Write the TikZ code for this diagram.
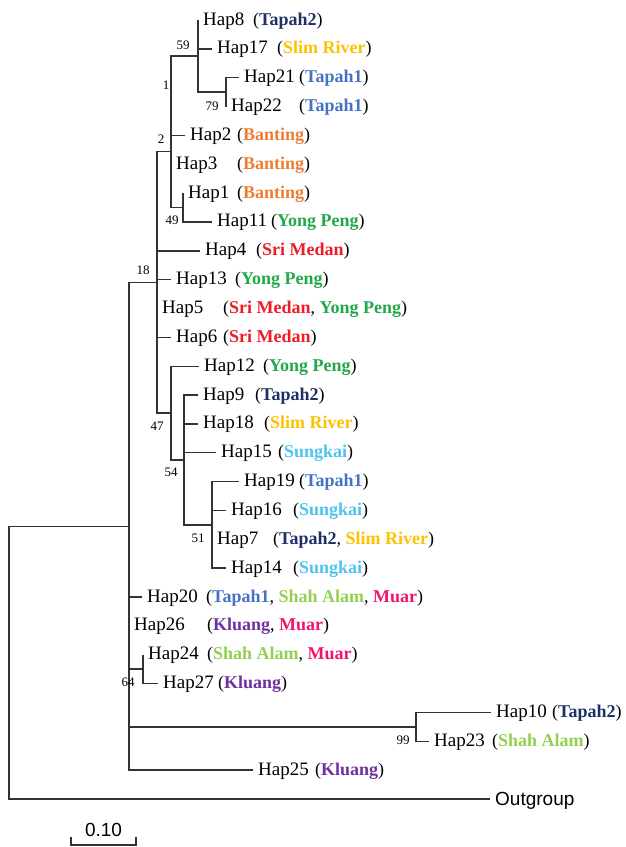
\documentclass[tikz,border=0pt]{standalone}
\usepackage{fontspec}
\setmainfont{Liberation Serif}
\newfontfamily\arialfont{Liberation Sans}

% population colours
\definecolor{tapahtwo}{HTML}{1F3068}
\definecolor{tapahone}{HTML}{4472C4}
\definecolor{slimriver}{HTML}{FFC000}
\definecolor{banting}{HTML}{ED7D31}
\definecolor{yongpeng}{HTML}{22A84A}
\definecolor{srimedan}{HTML}{EE1C25}
\definecolor{sungkai}{HTML}{4DC3F0}
\definecolor{shahalam}{HTML}{92D050}
\definecolor{muar}{HTML}{F0146E}
\definecolor{kluang}{HTML}{7030A0}
\definecolor{treeline}{HTML}{333333}

\newcommand\site[2]{\textcolor{#1}{\textbf{#2}}}

\begin{document}
\begin{tikzpicture}[x=1pt,y=-1pt,
  branch/.style={draw=treeline, line width=1.4pt},
  hap/.style={anchor=base west, inner sep=0pt, xshift=5pt, yshift=-5pt,
    font=\fontsize{19}{21}\selectfont},
  popn/.style={anchor=base west, inner sep=0pt, yshift=-5pt,
    font=\fontsize{18}{20}\selectfont},
  boot/.style={inner sep=0pt, font=\fontsize{13}{14}\selectfont},
  sans/.style={inner sep=0pt, font=\arialfont\fontsize{19}{21}\selectfont}]
\useasboundingbox (0,0) rectangle (625,847);

% internal nodes
\coordinate (root) at (9,662.6);
\coordinate (n18) at (129,526.2);
\coordinate (nP)  at (157,282.35);
\coordinate (nB)  at (171,151.6);
\coordinate (nA)  at (171,95.7);
\coordinate (n59) at (198,56.05);
\coordinate (n79) at (226,92.1);
\coordinate (n49) at (183,207.5);
\coordinate (n47) at (171,413.1);
\coordinate (n54) at (184,460.0);
\coordinate (n51) at (212,524.9);
\coordinate (n64) at (143,669.1);
\coordinate (n99) at (416,726.8);

% leaf tips
\coordinate (t8)  at (198,20);
\coordinate (t17) at (212,48.85);
\coordinate (t21) at (239,77.7);
\coordinate (t22) at (226,106.55);
\coordinate (t2)  at (185,135.4);
\coordinate (t3)  at (171,164.25);
\coordinate (t1)  at (183,193.1);
\coordinate (t11) at (212,221.95);
\coordinate (t4)  at (200,250.8);
\coordinate (t13) at (171,279.65);
\coordinate (t5)  at (157,308.5);
\coordinate (t6)  at (171,337.35);
\coordinate (t12) at (199,366.2);
\coordinate (t9)  at (198,395.05);
\coordinate (t18) at (198,423.9);
\coordinate (t15) at (216,452.75);
\coordinate (t19) at (239,481.6);
\coordinate (t16) at (226,510.45);
\coordinate (t7)  at (212,539.3);
\coordinate (t14) at (226,568.15);
\coordinate (t20) at (142,597.0);
\coordinate (t26) at (129,625.85);
\coordinate (t24) at (143,654.7);
\coordinate (t27) at (158,683.55);
\coordinate (t10) at (491,712.4);
\coordinate (t23) at (429,741.25);
\coordinate (t25) at (253,770.1);
\coordinate (tout) at (490,798.95);

% branches
\draw[branch] (root) |- (n18);
\draw[branch] (root) |- (tout);
\foreach \c in {nP,t20,t26,n64,n99,t25} \draw[branch] (n18) |- (\c);
\foreach \c in {nB,t4,t13,t5,t6,n47} \draw[branch] (nP) |- (\c);
\foreach \c in {nA,t3,n49} \draw[branch] (nB) |- (\c);
\foreach \c in {n59,t2} \draw[branch] (nA) |- (\c);
\foreach \c in {t8,t17,n79} \draw[branch] (n59) |- (\c);
\foreach \c in {t21,t22} \draw[branch] (n79) |- (\c);
\foreach \c in {t1,t11} \draw[branch] (n49) |- (\c);
\foreach \c in {t12,n54} \draw[branch] (n47) |- (\c);
\foreach \c in {t9,t18,t15,n51} \draw[branch] (n54) |- (\c);
\foreach \c in {t19,t16,t7,t14} \draw[branch] (n51) |- (\c);
\foreach \c in {t24,t27} \draw[branch] (n64) |- (\c);
\foreach \c in {t10,t23} \draw[branch] (n99) |- (\c);

% haplotype names
\node[hap] (h8)  at (t8)  {Hap8};
\node[hap] (h17) at (t17) {Hap17};
\node[hap] (h21) at (t21) {Hap21};
\node[hap] (h22) at (t22) {Hap22};
\node[hap] (h2)  at (t2)  {Hap2};
\node[hap] (h3)  at (t3)  {Hap3};
\node[hap] (h1)  at (t1)  {Hap1};
\node[hap] (h11) at (t11) {Hap11};
\node[hap] (h4)  at (t4)  {Hap4};
\node[hap] (h13) at (t13) {Hap13};
\node[hap] (h5)  at (t5)  {Hap5};
\node[hap] (h6)  at (t6)  {Hap6};
\node[hap] (h12) at (t12) {Hap12};
\node[hap] (h9)  at (t9)  {Hap9};
\node[hap] (h18) at (t18) {Hap18};
\node[hap] (h15) at (t15) {Hap15};
\node[hap] (h19) at (t19) {Hap19};
\node[hap] (h16) at (t16) {Hap16};
\node[hap] (h7)  at (t7)  {Hap7};
\node[hap] (h14) at (t14) {Hap14};
\node[hap] (h20) at (t20) {Hap20};
\node[hap] (h26) at (t26) {Hap26};
\node[hap] (h24) at (t24) {Hap24};
\node[hap] (h27) at (t27) {Hap27};
\node[hap] (h10) at (t10) {Hap10};
\node[hap] (h23) at (t23) {Hap23};
\node[hap] (h25) at (t25) {Hap25};
\node[sans, anchor=base west, xshift=5pt, yshift=-6.5pt] (hout) at (tout) {Outgroup};

% sampling sites
\node[popn] (s8)  at (253,20)     {(\site{tapahtwo}{Tapah2})};
\node[popn] (s17) at (277,48.85)  {(\site{slimriver}{Slim River})};
\node[popn] (s21) at (299,77.7)   {(\site{tapahone}{Tapah1})};
\node[popn] (s22) at (299,106.55) {(\site{tapahone}{Tapah1})};
\node[popn] (s2)  at (237,135.4)  {(\site{banting}{Banting})};
\node[popn] (s3)  at (237,164.25) {(\site{banting}{Banting})};
\node[popn] (s1)  at (237,193.1)  {(\site{banting}{Banting})};
\node[popn] (s11) at (271,221.95) {(\site{yongpeng}{Yong Peng})};
\node[popn] (s4)  at (256,250.8)  {(\site{srimedan}{Sri Medan})};
\node[popn] (s13) at (235,279.65) {(\site{yongpeng}{Yong Peng})};
\node[popn] (s5)  at (223,308.5)  {(\site{srimedan}{Sri Medan}, \site{yongpeng}{Yong Peng})};
\node[popn] (s6)  at (223,337.35) {(\site{srimedan}{Sri Medan})};
\node[popn] (s12) at (263,366.2)  {(\site{yongpeng}{Yong Peng})};
\node[popn] (s9)  at (255,395.05) {(\site{tapahtwo}{Tapah2})};
\node[popn] (s18) at (264,423.9)  {(\site{slimriver}{Slim River})};
\node[popn] (s15) at (278,452.75) {(\site{sungkai}{Sungkai})};
\node[popn] (s19) at (299,481.6)  {(\site{tapahone}{Tapah1})};
\node[popn] (s16) at (293,510.45) {(\site{sungkai}{Sungkai})};
\node[popn] (s7)  at (273,539.3)  {(\site{tapahtwo}{Tapah2}, \site{slimriver}{Slim River})};
\node[popn] (s14) at (293,568.15) {(\site{sungkai}{Sungkai})};
\node[popn] (s20) at (206,597.0)  {(\site{tapahone}{Tapah1}, \site{shahalam}{Shah Alam}, \site{muar}{Muar})};
\node[popn] (s26) at (207,625.85) {(\site{kluang}{Kluang}, \site{muar}{Muar})};
\node[popn] (s24) at (207,654.7)  {(\site{shahalam}{Shah Alam}, \site{muar}{Muar})};
\node[popn] (s27) at (218,683.55) {(\site{kluang}{Kluang})};
\node[popn] (s10) at (552,712.4)  {(\site{tapahtwo}{Tapah2})};
\node[popn] (s23) at (492,741.25) {(\site{shahalam}{Shah Alam})};
\node[popn] (s25) at (315,770.1)  {(\site{kluang}{Kluang})};

% bootstrap support
\node[boot] (b59) at (183,45)  {59};
\node[boot] (b1)  at (166,85)  {1};
\node[boot] (b79) at (212,106) {79};
\node[boot] (b2)  at (161,139) {2};
\node[boot] (b49) at (172,220) {49};
\node[boot] (b18) at (143,270) {18};
\node[boot] (b47) at (157,426) {47};
\node[boot] (b54) at (171,472) {54};
\node[boot] (b51) at (198,538) {51};
\node[boot] (b64) at (128,682) {64};
\node[boot] (b99) at (403,740) {99};

% scale bar
\coordinate (sbl) at (71,845);
\coordinate (sbr) at (136,845);
\draw[branch] ([yshift=8pt]sbl) -- (sbl) -- (sbr) -- ([yshift=8pt]sbr);
\node[sans, anchor=base] (sbt) at (103.5,836) {0.10};
\end{tikzpicture}
\end{document}
